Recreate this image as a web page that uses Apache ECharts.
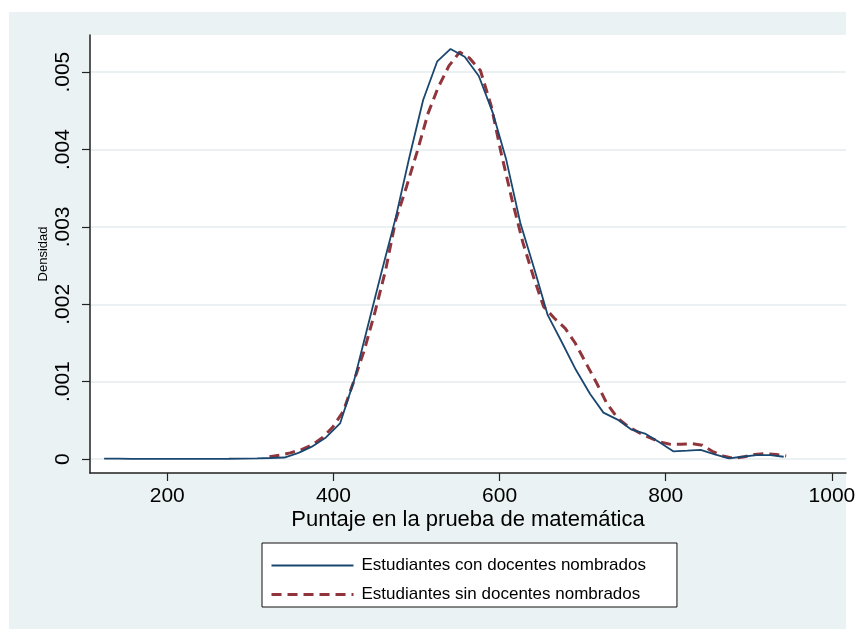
<!DOCTYPE html>
<html>
<head>
<meta charset="utf-8">
<script src="https://cdn.jsdelivr.net/npm/echarts@6/dist/echarts.min.js"></script>
<style>
html,body{margin:0;padding:0;background:#fff;}
#chart{width:862px;height:629px;}
</style>
</head>
<body>
<div id="chart"></div>
<script>
// Kernel density estimates
const conX = [124, 141, 157, 174, 191, 208, 224, 241, 258, 274, 291, 308, 324, 341, 358, 374, 391, 408, 425, 441, 458, 475, 491, 508, 525, 541, 558, 575, 592, 608, 625, 642, 658, 675, 692, 709, 725, 742, 759, 775, 792, 809, 826, 842, 859, 876, 892, 909, 926, 942];
const conY = [0.000006, 0.000005, 0.000003, 0.000002, 0.000002, 0.000002, 0.000002, 0.000002, 0.000003, 0.000004, 0.000006, 0.00001, 0.000014, 0.00002, 0.00008, 0.00016, 0.00028, 0.00046, 0.00102, 0.0017, 0.00242, 0.00312, 0.00388, 0.00464, 0.00514, 0.0053, 0.0052, 0.00495, 0.00447, 0.00387, 0.00305, 0.00245, 0.00186, 0.00151, 0.00115, 0.00084, 0.0006, 0.00051, 0.00038, 0.00033, 0.00022, 0.0001, 0.00011, 0.00012, 0.00006, 0.00001, 0.00003, 0.00005, 0.00005, 0.00003];
const sinX = [323, 336, 348, 361, 374, 387, 399, 412, 425, 437, 450, 463, 475, 488, 501, 514, 526, 539, 552, 564, 577, 590, 602, 615, 628, 641, 653, 666, 679, 691, 704, 717, 729, 742, 755, 768, 780, 793, 806, 818, 831, 844, 856, 869, 882, 895, 907, 920, 933, 945];
const sinY = [0.00003, 0.00005, 0.00008, 0.00012, 0.00018, 0.00028, 0.00041, 0.00062, 0.00102, 0.0014, 0.0019, 0.00245, 0.00309, 0.00352, 0.00398, 0.00447, 0.0048, 0.00508, 0.00526, 0.00518, 0.00502, 0.00456, 0.00395, 0.00335, 0.0028, 0.00235, 0.00197, 0.00182, 0.00169, 0.0015, 0.00124, 0.00098, 0.00072, 0.00053, 0.00042, 0.00034, 0.00028, 0.00022, 0.00019, 0.00019, 0.0002, 0.00018, 0.0001, 0.00004, 0.00001, 0.00003, 0.00006, 0.00007, 0.00006, 0.00004];
const xTicks = [200, 400, 600, 800, 1000];
const yTicks = [0, 0.001, 0.002, 0.003, 0.004, 0.005];
const seriesNames = ['Estudiantes con docentes nombrados', 'Estudiantes sin docentes nombrados'];
const xTitle = 'Puntaje en la prueba de matemática';
const yTitle = 'Densidad';

const FONT = 'Liberation Sans, Arial, sans-serif';
const AXIS_COLOR = '#222';
const BLUE = '#1A476F';
const RED = '#90353B';

function pairs(xs, ys) { return xs.map((x, i) => [x, ys[i]]); }

const chart = echarts.init(document.getElementById('chart'), null, {renderer: 'canvas'});
chart.setOption({
  animation: false,
  backgroundColor: '#ffffff',
  textStyle: {fontFamily: FONT},
  graphic: [{
    type: 'rect', z: -10, silent: true,
    shape: {x: 9, y: 12, width: 837, height: 617},
    style: {fill: '#EAF2F3'}
  }],
  grid: {
    left: 90, right: 16, top: 35, bottom: 156,
    show: true, backgroundColor: '#ffffff', borderWidth: 0
  },
  legend: {
    left: 262, top: 543,
    orient: 'vertical',
    itemWidth: 82, itemHeight: 17, itemGap: 12,
    padding: [14, 31, 4, 8],
    borderColor: '#111', borderWidth: 1, borderRadius: 0,
    backgroundColor: '#ffffff',
    itemStyle: {opacity: 0},
    textStyle: {fontFamily: FONT, fontSize: 17, color: '#000', padding: [0, 0, 0, 3]},
    data: [
      {name: seriesNames[0], lineStyle: {color: BLUE, width: 1.8, type: 'solid'}},
      {name: seriesNames[1], lineStyle: {color: RED, width: 3, type: [10, 6]}}
    ]
  },
  xAxis: {
    type: 'value', min: 107, max: 1017,
    name: xTitle, nameLocation: 'middle', nameGap: 36, nameMoveOverlap: false,
    nameTextStyle: {fontFamily: FONT, fontSize: 22, color: '#000'},
    axisLine: {show: true, onZero: false, lineStyle: {color: AXIS_COLOR, width: 1.5}},
    axisTick: {show: true, length: 8, customValues: xTicks, lineStyle: {color: AXIS_COLOR, width: 1.2}},
    axisLabel: {customValues: xTicks, fontFamily: FONT, fontSize: 21, color: '#000', margin: 13,
      formatter: v => String(v)},
    splitLine: {show: false}
  },
  yAxis: {
    type: 'value', min: -0.00018, max: 0.00548,
    name: yTitle, nameLocation: 'middle', nameGap: 40, nameMoveOverlap: false,
    nameTextStyle: {fontFamily: FONT, fontSize: 13, color: '#000'},
    axisLine: {show: true, onZero: false, lineStyle: {color: AXIS_COLOR, width: 1.5}},
    axisTick: {show: true, length: 8, customValues: yTicks, lineStyle: {color: AXIS_COLOR, width: 1.2}},
    axisLabel: {
      customValues: yTicks, rotate: 90, fontFamily: FONT, fontSize: 21, color: '#000', margin: 16,
      formatter: v => v === 0 ? '0' : String(v).replace(/^0\./, '.')
    },
    splitLine: {show: true, lineStyle: {color: '#E4ECEF', width: 1.5}}
  },
  series: [
    {
      name: seriesNames[0], type: 'line', symbol: 'none', smooth: false,
      data: pairs(conX, conY),
      lineStyle: {color: BLUE, width: 1.8},
      itemStyle: {color: BLUE},
      z: 3
    },
    {
      name: seriesNames[1], type: 'line', symbol: 'none', smooth: false,
      data: pairs(sinX, sinY),
      lineStyle: {color: RED, width: 3, type: [10, 6]},
      itemStyle: {color: RED},
      z: 2
    }
  ]
});
</script>
</body>
</html>
